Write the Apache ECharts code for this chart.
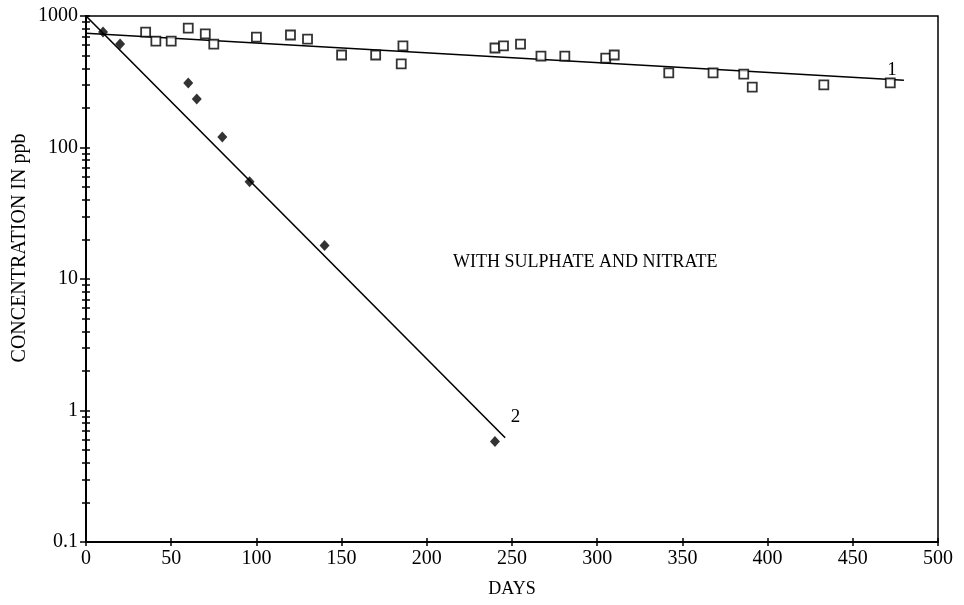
<!DOCTYPE html>
<html>
<head>
<meta charset="utf-8">
<script src="https://cdn.jsdelivr.net/npm/echarts@6/dist/echarts.min.js"></script>
<style>
  html, body { margin: 0; padding: 0; background: #fff; }
  #chart { width: 964px; height: 605px; }
</style>
</head>
<body>
<div id="chart"></div>
<script>
// series 1: squares (with sulphate and nitrate, slow decay)
const squareDays = [35, 41, 50, 60, 70, 75, 100, 120, 130, 150, 170, 185, 186, 240, 245, 255, 267, 281, 305, 310, 342, 368, 386, 391, 433, 472]
const squareConc = [755, 645, 645, 810, 730, 612, 692, 717, 668, 505, 505, 432, 592, 571, 592, 612, 496, 496, 479, 505, 369, 369, 362, 288, 299, 310]

// series 2: diamonds (fast decay)
const diamondDays = [10, 20, 60, 65, 80, 96, 140, 240]
const diamondConc = [755, 612, 310, 234, 120, 55, 18, 0.58]

// fitted lines (end points)
const fit1Days = [0, 480]
const fit1Conc = [740, 325]
const fit2Days = [0, 246]
const fit2Conc = [1000, 0.62]

const yMajor = [0.1, 1, 10, 100, 1000]
const yMinor = []
yMajor.slice(0, 4).forEach(d => {
	for (let k = 2; k <= 9; k++) yMinor.push(+(d * k).toPrecision(3))
})

const FONT = 'Liberation Serif'
const pair = (xs, ys) => xs.map((x, i) => [x, ys[i]])

const chart = echarts.init(document.getElementById('chart'))

const baseY = {
	type: 'log',
	logBase: 10,
	min: 0.1,
	max: 1000,
	position: 'left',
	splitLine: { show: false },
	axisLine: { show: true, lineStyle: { color: '#000', width: 1.5 } }
}
const baseX = {
	type: 'value',
	min: 0,
	max: 500,
	interval: 50,
	position: 'bottom',
	splitLine: { show: false },
	axisLine: { show: true, onZero: false, lineStyle: { color: '#000', width: 1.5 } }
}

chart.setOption({
	animation: false,
	backgroundColor: '#fff',
	grid: {
		left: 86, right: 26, top: 16, bottom: 63,
		show: true, borderColor: '#000', borderWidth: 1.5
	},
	xAxis: [
		Object.assign({}, baseX, {
			name: 'DAYS',
			nameLocation: 'middle',
			nameGap: 38,
			nameTextStyle: { fontFamily: FONT, fontSize: 18, color: '#000' },
			axisTick: { show: true, inside: false, length: 4, lineStyle: { color: '#000', width: 1.5 } },
			axisLabel: { fontFamily: FONT, fontSize: 20, color: '#000', margin: 7 }
		}),
		Object.assign({}, baseX, {
			axisTick: { show: true, inside: true, length: 4, lineStyle: { color: '#000', width: 1.5 } },
			axisLabel: { show: false }
		})
	],
	yAxis: [
		Object.assign({}, baseY, {
			axisTick: { show: true, inside: false, length: 6, lineStyle: { color: '#000', width: 1.5 } },
			axisLabel: {
				fontFamily: FONT, fontSize: 20, color: '#000', margin: 8,
				customValues: yMajor,
				formatter: v => String(+v.toPrecision(3))
			}
		}),
		Object.assign({}, baseY, {
			axisTick: {
				show: true, inside: false, length: 4, customValues: yMinor,
				lineStyle: { color: '#000', width: 1.5 }
			},
			axisLabel: { show: false }
		}),
		Object.assign({}, baseY, {
			axisTick: {
				show: true, inside: true, length: 4, customValues: yMajor.concat(yMinor),
				lineStyle: { color: '#000', width: 1.5 }
			},
			axisLabel: { show: false }
		})
	],
	series: [
		{
			name: 'fit 1',
			type: 'line',
			data: pair(fit1Days, fit1Conc),
			showSymbol: false,
			lineStyle: { color: '#000', width: 1.6 },
			z: 2
		},
		{
			name: 'fit 2',
			type: 'line',
			data: pair(fit2Days, fit2Conc),
			showSymbol: false,
			lineStyle: { color: '#000', width: 1.6 },
			z: 2
		},
		{
			name: 'squares',
			type: 'scatter',
			data: pair(squareDays, squareConc),
			symbol: 'rect',
			symbolSize: 9,
			itemStyle: { color: '#fff', borderColor: '#000', borderWidth: 1.8 },
			z: 3
		},
		{
			name: 'diamonds',
			type: 'scatter',
			data: pair(diamondDays, diamondConc),
			symbol: 'diamond',
			symbolSize: [10, 11],
			itemStyle: { color: '#000' },
			z: 3
		}
	]
})

// text annotations placed at data positions
const notes = [
	{ text: '1', at: [473, 390], size: 19 },
	{ text: '2', at: [252, 0.9], size: 19 },
	{ text: 'WITH SULPHATE AND NITRATE', at: [293, 13.5], size: 18 }
]
chart.setOption({
	graphic: notes.map(n => {
		const p = chart.convertToPixel({ xAxisIndex: 0, yAxisIndex: 0 }, n.at)
		return {
			type: 'text',
			x: p[0], y: p[1],
			style: {
				text: n.text,
				fontFamily: FONT,
				fontSize: n.size,
				fill: '#000',
				align: 'center',
				verticalAlign: 'middle'
			}
		}
	}).concat([{
		// y-axis title, sits a little above the plot middle as in the original
		type: 'text',
		x: 20, y: 248,
		rotation: Math.PI / 2,
		style: {
			text: 'CONCENTRATION IN ppb',
			fontFamily: FONT,
			fontSize: 20,
			fill: '#000',
			align: 'center',
			verticalAlign: 'middle'
		}
	}])
})
</script>
</body>
</html>
